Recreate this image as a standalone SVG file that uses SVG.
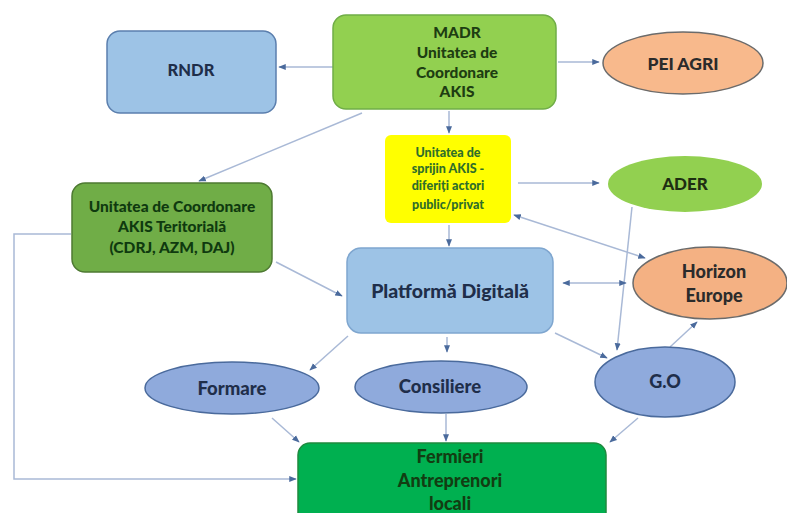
<svg xmlns="http://www.w3.org/2000/svg" width="787" height="513" viewBox="0 0 787 513">
<defs>
<marker id="ah" viewBox="0 0 10 10" refX="9" refY="5" markerWidth="5" markerHeight="5" orient="auto-start-reverse">
<path d="M0,1 L10,5 L0,9 z" fill="#4a6a9c"/>
</marker>
<style>
.t{font-family:Lato,"Liberation Sans",sans-serif;font-weight:900;text-anchor:middle}
.c{fill:none;stroke:#a9b9d6;stroke-width:1.5}
</style>
</defs>
<rect width="787" height="513" fill="#ffffff"/>
<g id="connectors">
<line class="c" x1="333" y1="67" x2="279" y2="67" marker-end="url(#ah)"/>
<line class="c" x1="558" y1="62" x2="599" y2="62" marker-end="url(#ah)"/>
<line class="c" x1="449" y1="111" x2="449" y2="133" marker-end="url(#ah)"/>
<line class="c" x1="362" y1="113" x2="199" y2="181" marker-end="url(#ah)"/>
<line class="c" x1="518" y1="183" x2="599" y2="183" marker-end="url(#ah)"/>
<line class="c" x1="514" y1="215" x2="645" y2="258" marker-start="url(#ah)" marker-end="url(#ah)"/>
<line class="c" x1="449" y1="225" x2="449" y2="246" marker-end="url(#ah)"/>
<line class="c" x1="632" y1="207" x2="617" y2="350" marker-end="url(#ah)"/>
<line class="c" x1="276" y1="262" x2="342" y2="296" marker-end="url(#ah)"/>
<line class="c" x1="563" y1="283" x2="626" y2="283" marker-start="url(#ah)" marker-end="url(#ah)"/>
<line class="c" x1="555" y1="333" x2="607" y2="358" marker-end="url(#ah)"/>
<line class="c" x1="670" y1="347" x2="697" y2="322" marker-end="url(#ah)"/>
<line class="c" x1="348" y1="336" x2="310" y2="370" marker-end="url(#ah)"/>
<line class="c" x1="447" y1="337" x2="447" y2="352" marker-end="url(#ah)"/>
<line class="c" x1="272" y1="418" x2="299" y2="442" marker-end="url(#ah)"/>
<line class="c" x1="446" y1="414" x2="446" y2="441" marker-end="url(#ah)"/>
<line class="c" x1="638" y1="418" x2="610" y2="442" marker-end="url(#ah)"/>
<polyline class="c" points="71,234 14,234 14,479 296,479" marker-end="url(#ah)"/>
</g>
<g id="rndr">
<rect x="107" y="31" width="169" height="82" rx="13" fill="#9dc3e6" stroke="#5b7fae" stroke-width="1.5"/>
<text class="t" x="191" y="76" font-size="16.5" fill="#1f2e4a">RNDR</text>
</g>
<g id="madr">
<rect x="333" y="15" width="223" height="94" rx="13" fill="#92d050" stroke="#70ad47" stroke-width="1.5"/>
<text class="t" x="457" y="38" font-size="15.5" fill="#1e3d12">MADR</text>
<text class="t" x="457" y="58" font-size="15.5" fill="#1e3d12">Unitatea de</text>
<text class="t" x="457" y="78" font-size="15.5" fill="#1e3d12">Coordonare</text>
<text class="t" x="457" y="97" font-size="15.5" fill="#1e3d12">AKIS</text>
</g>
<g id="pei">
<ellipse cx="683" cy="63" rx="80" ry="31" fill="#f8b98c" stroke="#6b6b6b" stroke-width="1.5"/>
<text class="t" x="683" y="70" font-size="17.5" fill="#2b2b2b">PEI AGRI</text>
</g>
<g id="sprijin">
<rect x="385" y="135" width="126" height="88" rx="6" fill="#ffff00"/>
<text class="t" x="448" y="157" font-size="12.5" fill="#2f6e2a">Unitatea de</text>
<text class="t" x="448" y="173" font-size="12.5" fill="#2f6e2a">sprijin AKIS -</text>
<text class="t" x="448" y="190" font-size="12.5" fill="#2f6e2a">diferiți actori</text>
<text class="t" x="448" y="209" font-size="12.5" fill="#2f6e2a">public/privat</text>
</g>
<g id="ader">
<ellipse cx="685" cy="184" rx="77" ry="28" fill="#92d050"/>
<text class="t" x="685" y="190" font-size="17" fill="#1e2e12">ADER</text>
</g>
<g id="teritorial">
<rect x="72" y="183" width="200" height="89" rx="13" fill="#70ad47" stroke="#4e7a32" stroke-width="1.5"/>
<text class="t" x="172" y="212" font-size="15.5" fill="#0f3a0f">Unitatea de Coordonare</text>
<text class="t" x="172" y="232" font-size="15.5" fill="#0f3a0f">AKIS Teritorială</text>
<text class="t" x="172" y="253" font-size="15.5" fill="#0f3a0f">(CDRJ, AZM, DAJ)</text>
</g>
<g id="platforma">
<rect x="347" y="248" width="206" height="85" rx="14" fill="#9dc3e6" stroke="#7fa6cf" stroke-width="1.5"/>
<text class="t" x="450" y="298" font-size="19.5" fill="#1f2e4a">Platformă Digitală</text>
</g>
<g id="horizon">
<ellipse cx="710" cy="283" rx="77" ry="36" fill="#f4b183" stroke="#6b6b6b" stroke-width="1.5"/>
<text class="t" x="714" y="278" font-size="18" fill="#2b2b2b">Horizon</text>
<text class="t" x="714" y="302" font-size="18" fill="#2b2b2b">Europe</text>
</g>
<g id="formare">
<ellipse cx="232" cy="388" rx="87" ry="26" fill="#8faadc" stroke="#4a6a9c" stroke-width="1.5"/>
<text class="t" x="232" y="395" font-size="18.5" fill="#1f2e4a">Formare</text>
</g>
<g id="consiliere">
<ellipse cx="441" cy="387" rx="86" ry="26" fill="#8faadc" stroke="#4a6a9c" stroke-width="1.5"/>
<text class="t" x="440" y="393" font-size="18.5" fill="#1f2e4a">Consiliere</text>
</g>
<g id="go">
<ellipse cx="665" cy="382" rx="70" ry="35" fill="#8faadc" stroke="#4a6a9c" stroke-width="1.5"/>
<text class="t" x="665" y="388" font-size="18" fill="#1f2e4a">G.O</text>
</g>
<g id="fermieri">
<rect x="298" y="443" width="308" height="90" rx="12" fill="#00b050" stroke="#1e8a3e" stroke-width="1.5"/>
<text class="t" x="450" y="463" font-size="18" fill="#123d12">Fermieri</text>
<text class="t" x="450" y="487" font-size="18" fill="#123d12">Antreprenori</text>
<text class="t" x="450" y="510" font-size="18" fill="#123d12">locali</text>
</g>
</svg>
